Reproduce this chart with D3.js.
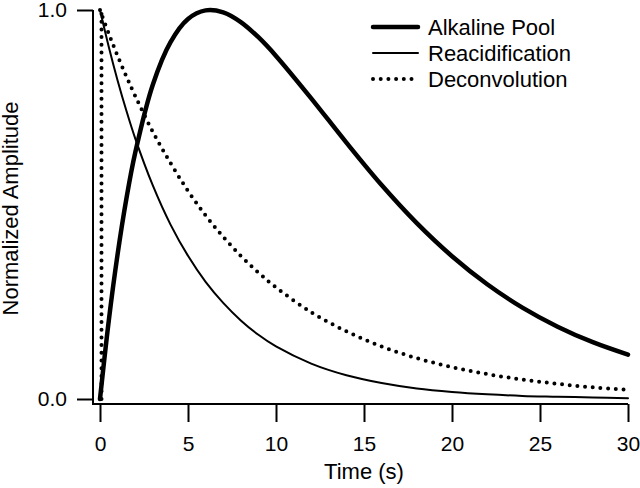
<!DOCTYPE html>
<html>
<head>
<meta charset="utf-8">
<script src="https://cdn.jsdelivr.net/npm/d3@7/dist/d3.min.js"></script>
<style>
  html, body { margin: 0; padding: 0; background: #fff; }
  svg { display: block; }
  text { font-family: "Liberation Sans", Arial, Helvetica, sans-serif; fill: #000; }
</style>
</head>
<body>
<svg id="chart" width="640" height="488"></svg>
<script>
// ---- data ----
const times = [0, 0.5, 1, 1.5, 2, 3, 4, 5, 6, 7, 8, 9, 10, 12, 14, 16, 18, 20, 22, 24, 26, 28, 30];
const alkalinePool = [0, 0.202, 0.372, 0.515, 0.633, 0.808, 0.917, 0.977, 0.999, 0.994, 0.969, 0.930, 0.882, 0.773, 0.659, 0.550, 0.452, 0.367, 0.295, 0.235, 0.186, 0.146, 0.114];
const reacidification = [1, 0.905, 0.819, 0.741, 0.670, 0.549, 0.449, 0.368, 0.301, 0.247, 0.202, 0.165, 0.135, 0.091, 0.061, 0.041, 0.027, 0.018, 0.012, 0.008, 0.006, 0.004, 0.002];
const deconvolution = [1, 0.939, 0.882, 0.829, 0.779, 0.687, 0.607, 0.535, 0.472, 0.417, 0.368, 0.325, 0.287, 0.223, 0.174, 0.135, 0.105, 0.082, 0.064, 0.050, 0.039, 0.030, 0.024];
const deconvolutionOnset = [[0, 0], [0, 1]];
const xTicks = [0, 5, 10, 15, 20, 25, 30];
const yTicks = [0, 1];
const seriesNames = ["Alkaline Pool", "Reacidification", "Deconvolution"];

// ---- drawing ----
const svg = d3.select("#chart");
const x = d3.scaleLinear().domain([0, 30]).range([100, 628]);
const y = d3.scaleLinear().domain([0, 1]).range([399, 10]);

const styles = {
  "Alkaline Pool":   { width: 4.5, dash: null, cap: "round" },
  "Reacidification": { width: 2,   dash: null, cap: "round" },
  "Deconvolution":   { width: 4,   dash: "0 7.7", cap: "round" }
};

// axes
const yAxisX = 93, xAxisY = 404;
const yAxis = d3.axisLeft(y).tickValues(yTicks).tickFormat(d3.format(".1f"))
  .tickSize(16).tickSizeOuter(0).tickPadding(10);
const gy = svg.append("g").attr("transform", `translate(${yAxisX},0)`).call(yAxis);
gy.select(".domain").remove();
gy.selectAll(".tick line").attr("stroke", "#000").attr("stroke-width", 2);
gy.selectAll(".tick text").style("font-size", "21px").attr("fill", "#000");

const xAxis = d3.axisBottom(x).tickValues(xTicks).tickFormat(d3.format("d"))
  .tickSize(18).tickSizeOuter(0).tickPadding(14);
const gx = svg.append("g").attr("transform", `translate(0,${xAxisY})`).call(xAxis);
gx.select(".domain").remove();
gx.selectAll(".tick line").attr("stroke", "#000").attr("stroke-width", 2);
gx.selectAll(".tick text").style("font-size", "21px").attr("fill", "#000");

// axis lines (offset from the plot area like the original)
svg.append("line").attr("x1", yAxisX).attr("x2", yAxisX)
  .attr("y1", y(1)).attr("y2", xAxisY + 1)
  .attr("stroke", "#000").attr("stroke-width", 2);
svg.append("line").attr("x1", yAxisX - 1).attr("x2", x(30))
  .attr("y1", xAxisY).attr("y2", xAxisY)
  .attr("stroke", "#000").attr("stroke-width", 2);

// axis titles
svg.append("text").attr("x", (x(0) + x(30)) / 2).attr("y", 479)
  .attr("text-anchor", "middle").style("font-size", "22px").text("Time (s)");
svg.append("text").attr("transform", `translate(18,${(y(0) + y(1)) / 2 + 4}) rotate(-90)`)
  .attr("text-anchor", "middle").style("font-size", "22px").text("Normalized Amplitude");

// series
const line = d3.line().x(d => x(d[0])).y(d => y(d[1])).curve(d3.curveCatmullRom.alpha(0.5));
const seriesData = {
  "Alkaline Pool": times.map((t, i) => [t, alkalinePool[i]]),
  "Reacidification": times.map((t, i) => [t, reacidification[i]]),
  "Deconvolution": times.map((t, i) => [t, deconvolution[i]])
};

function styled(sel, name) {
  const s = styles[name];
  sel.attr("fill", "none").attr("stroke", "#000").attr("stroke-width", s.width)
    .attr("stroke-linecap", s.cap).attr("stroke-linejoin", "round");
  if (s.dash) sel.attr("stroke-dasharray", s.dash);
  return sel;
}

styled(svg.append("path").attr("d", d3.line().x(d => x(d[0]) + 1.5).y(d => y(d[1]))(deconvolutionOnset)), "Deconvolution");
["Reacidification", "Deconvolution", "Alkaline Pool"].forEach(name => {
  styled(svg.append("path").attr("d", line(seriesData[name])), name);
});

// legend
const legend = svg.append("g");
seriesNames.forEach((name, i) => {
  const ly = 27 + i * 26;
  styled(legend.append("line").attr("x1", 373).attr("x2", 418).attr("y1", ly).attr("y2", ly), name);
  legend.append("text").attr("x", 428).attr("y", ly + 8).style("font-size", "22px").text(name);
});
</script>
</body>
</html>
